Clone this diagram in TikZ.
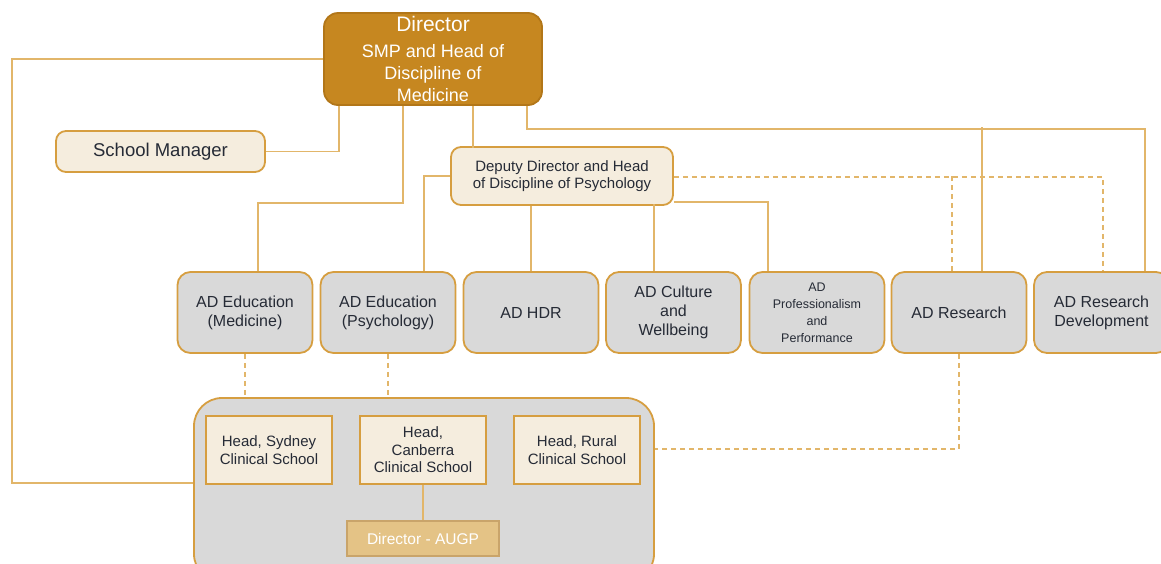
\documentclass[tikz,border=0pt]{standalone}
\usepackage{fontspec}
\setmainfont{Liberation Sans}
\usepackage{tikz}
\usetikzlibrary{positioning}

\definecolor{dirfill}{HTML}{C68720}
\definecolor{dirline}{HTML}{B27618}
\definecolor{creamfill}{HTML}{F5EDDE}
\definecolor{boxline}{HTML}{D69E40}
\definecolor{linkcol}{HTML}{E2B66A}
\definecolor{greyfill}{HTML}{D9D9D9}
\definecolor{augpfill}{HTML}{E4C386}
\definecolor{augpline}{HTML}{C9A46A}
\definecolor{ink}{HTML}{262B36}

\begin{document}
\begin{tikzpicture}[
    x=1pt, y=-1pt,
    dirnode/.style={rectangle, rounded corners=14pt, draw=dirline, line width=1.8pt, fill=dirfill,
        text=white, align=center, inner sep=0pt, minimum width=218pt, minimum height=92pt,
        font=\fontsize{18}{22}\selectfont},
    creamnode/.style={rectangle, rounded corners=10pt, draw=boxline, line width=1.8pt, fill=creamfill,
        text=ink, align=center, inner sep=0pt},
    adnode/.style={rectangle, rounded corners=13pt, draw=boxline, line width=1.8pt, fill=greyfill,
        text=ink, align=center, inner sep=0pt, minimum width=135pt, minimum height=81pt,
        font=\fontsize{16}{19}\selectfont},
    headnode/.style={rectangle, draw=boxline, line width=1.8pt, fill=creamfill, text=ink,
        align=center, inner sep=0pt, minimum width=126pt, minimum height=68pt,
        font=\fontsize{15}{17.5}\selectfont},
    augpnode/.style={rectangle, draw=augpline, line width=1.5pt, fill=augpfill, text=white,
        inner sep=0pt, minimum width=152pt, minimum height=35pt, font=\fontsize{15.5}{18}\selectfont},
    link/.style={draw=linkcol, line width=1.3pt},
    dotlink/.style={draw=linkcol, line width=1.5pt, dash pattern=on 5pt off 4pt}
]
\useasboundingbox (0,0) rectangle (1161,563);

% top of the tree
\node[dirnode](dir) at (433,59) {{\fontsize{21}{24}\selectfont Director}\\[4pt]SMP and Head of\\Discipline of\\Medicine};
\node[creamnode, minimum width=209pt, minimum height=41pt, font=\fontsize{18.5}{22}\selectfont](mgr) at (160.5,151.5) {School Manager};
\node[creamnode, minimum width=222pt, minimum height=58pt, font=\fontsize{15}{17}\selectfont](dep) at (562,176) {Deputy Director and Head\\of Discipline of Psychology};

% associate directors
\node[adnode](edmed) at (245,312.5) {AD Education\\(Medicine)};
\node[adnode](edpsy) at (388,312.5) {AD Education\\(Psychology)};
\node[adnode](hdr) at (531,312.5) {AD HDR};
\node[adnode](cul) at (673.5,312.5) {AD Culture\\and\\Wellbeing};
\node[adnode, font=\fontsize{12.5}{17}\selectfont](prof) at (817,312.5) {AD\\Professionalism\\and\\Performance};
\node[adnode](res) at (959,312.5) {AD Research};
\node[adnode](resdev) at (1101.5,312.5) {AD Research\\Development};

% clinical schools
\node[rectangle, rounded corners=28pt, draw=boxline, line width=1.8pt, fill=greyfill,
    minimum width=460pt, minimum height=184pt](clin) at (424,490) {};
\node[headnode](syd) at (269,450) {Head, Sydney\\Clinical School};
\node[headnode](cbr) at (423,450) {Head,\\Canberra\\Clinical School};
\node[headnode](rur) at (577,450) {Head, Rural\\Clinical School};
\node[augpnode](augp) at (423,538.5) {Director - AUGP};

% solid reporting lines
\draw[link] (dir.west) -- ++(-311,0) |- ([yshift=7pt]clin.west);
\draw[link] ([xshift=16pt]dir.south west) |- (mgr.east);
\draw[link] ([xshift=80pt]dir.south west) -- ++(0,97) -| ([xshift=13pt]edmed.north);
\draw[link] ([xshift=150pt]dir.south west) -- ++(0,42);
\draw[link] ([xshift=204pt]dir.south west) -- ++(0,23) -| ([xshift=43.5pt]resdev.north);
\draw[link] ([xshift=23pt]res.north) -- ++(0,-144);
\draw[link] (dep.west) -| ([xshift=36pt]edpsy.north);
\draw[link] (hdr.north) -- (hdr.north |- dep.south);
\draw[link] ([xshift=-19.5pt]cul.north) -- ++(0,-67);
\draw[link] ([yshift=-26pt]dep.east) -| ([xshift=-49pt]prof.north);
\draw[link] (cbr.south) -- (augp.north);

% dashed lines
\draw[dotlink] ([yshift=-1pt]dep.east) -| ([xshift=1.5pt]resdev.north);
\draw[dotlink] ([xshift=-7pt]res.north) -- ++(0,-95);
\draw[dotlink] (edmed.south) -- (edmed.south |- clin.north);
\draw[dotlink] (edpsy.south) -- (edpsy.south |- clin.north);
\draw[dotlink] (res.south) |- ([yshift=41pt]clin.east);
\end{tikzpicture}
\end{document}
